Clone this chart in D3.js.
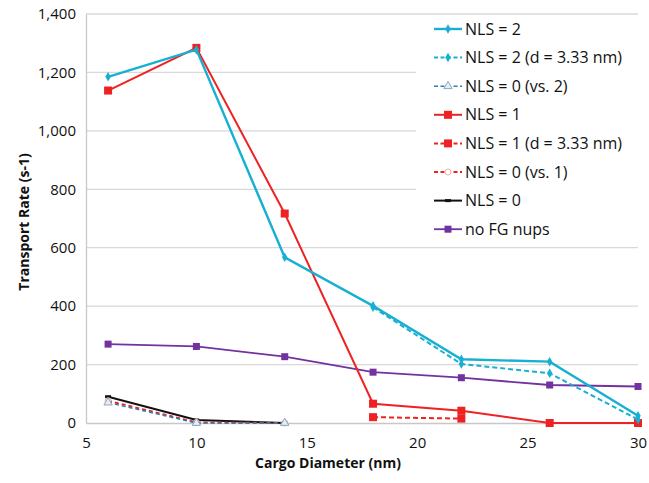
<!DOCTYPE html>
<html><head><meta charset="utf-8">
<script src="https://cdn.jsdelivr.net/npm/d3@7"></script>
<style>body{margin:0;background:#fff}svg{display:block}text{font-family:"Open Sans",Lato,sans-serif}</style>
</head><body><div id="c"></div>
<script>
const xTicks = [5,10,15,20,25,30];
const yTicks = [0,200,400,600,800,1000,1200,1400];
const xNls2 = [6,10,14,18,22,26,30];
const nls2 = [1185,1278,567,401,218,210,25];
const xNls2d = [18,22,26,30];
const nls2d = [396,202,170,12];
const xNls0v2 = [6,10,14];
const nls0v2 = [70,0,0];
const xNls1 = [6,10,14,18,22,26,30];
const nls1 = [1138,1284,717,66,42,0,0];
const xNls1d = [18,22];
const nls1d = [20,15];
const xNls0v1 = [6,10,14];
const nls0v1 = [76,2,0];
const xNls0 = [6,10,14];
const nls0 = [90,10,0];
const xNoFG = [6,10,14,18,22,26,30];
const noFG = [270,262,227,174,155,130,125];
const seriesNames = ["NLS = 2","NLS = 2 (d = 3.33 nm)","NLS = 0 (vs. 2)","NLS = 1","NLS = 1 (d = 3.33 nm)","NLS = 0 (vs. 1)","NLS = 0","no FG nups"];

const cyan="#17b0d3", red="#ee2222", purple="#7232a0", navy="#2f7fb0";
const series = [
 {name:seriesNames[0], xs:xNls2, ys:nls2, color:cyan, dash:null, marker:"diamond", w:2.4},
 {name:seriesNames[1], xs:xNls2d, ys:nls2d, color:cyan, dash:"5,3", marker:"diamond", w:2},
 {name:seriesNames[2], xs:xNls0v2, ys:nls0v2, color:navy, dash:"4,3", marker:"tri", w:1.5},
 {name:seriesNames[3], xs:xNls1, ys:nls1, color:red, dash:null, marker:"square", w:2},
 {name:seriesNames[4], xs:xNls1d, ys:nls1d, color:red, dash:"5,3", marker:"square", w:2},
 {name:seriesNames[5], xs:xNls0v1, ys:nls0v1, color:red, dash:"4,3", marker:"opencircle", w:2},
 {name:seriesNames[6], xs:xNls0, ys:nls0, color:"#111", dash:null, marker:"dash", w:2},
 {name:seriesNames[7], xs:xNoFG, ys:noFG, color:purple, dash:null, marker:"square", w:1.8}
];
const drawOrder=[6,7,5,2,4,3,1,0];

const W=649,H=483;
const svg=d3.select("#c").append("svg").attr("width",W).attr("height",H);
const x=d3.scaleLinear().domain([5,30]).range([86,638]);
const y=d3.scaleLinear().domain([0,1400]).range([423,14]);

svg.append("g").selectAll("line").data(yTicks.slice(1)).join("line")
 .attr("x1",86).attr("x2",638).attr("y1",d=>y(d)).attr("y2",d=>y(d))
 .attr("stroke","#d9d9d9").attr("stroke-width",1.3);

const xa=svg.append("g").attr("transform","translate(0,423)")
 .call(d3.axisBottom(x).tickValues(xTicks).tickSize(0).tickPadding(14).tickFormat(d3.format("d")));
xa.select(".domain").attr("stroke","#c8c8c8").attr("stroke-width",1.3);
xa.selectAll("text").attr("font-size",15).attr("fill","#111").attr("font-family","'Open Sans',sans-serif");
const ya=svg.append("g").attr("transform","translate(86,0)")
 .call(d3.axisLeft(y).tickValues(yTicks).tickSize(0).tickPadding(10).tickFormat(d3.format(",")));
ya.select(".domain").attr("stroke","#c8c8c8").attr("stroke-width",1.3);
ya.selectAll("text").attr("font-size",15).attr("fill","#111").attr("font-family","'Open Sans',sans-serif");

svg.append("text").attr("x",328).attr("y",468).attr("text-anchor","middle")
 .attr("font-size",14).attr("font-weight","bold").attr("fill","#111").text("Cargo Diameter (nm)");
svg.append("text").attr("transform","translate(29,222) rotate(-90)").attr("text-anchor","middle")
 .attr("font-size",14).attr("font-weight","bold").attr("fill","#111").text("Transport Rate (s-1)");

function marker(g,type,cx,cy,color){
  if(type==="diamond"){
    g.append("path").attr("d",d3.symbol(d3.symbolDiamond,26)()).attr("transform",`translate(${cx},${cy})`).attr("fill",color);
  } else if(type==="square"){
    const s = color===purple?7:8;
    g.append("rect").attr("x",cx-s/2).attr("y",cy-s/2).attr("width",s).attr("height",s).attr("fill",color);
  } else if(type==="tri"){
    g.append("path").attr("d",d3.symbol(d3.symbolTriangle,30)()).attr("transform",`translate(${cx},${cy})`)
     .attr("fill","#e6eef5").attr("stroke","#8aa6c0").attr("stroke-width",1);
  } else if(type==="opencircle"){
    g.append("circle").attr("cx",cx).attr("cy",cy).attr("r",3).attr("fill","#fff").attr("stroke","#f4b0b0").attr("stroke-width",1);
  } else if(type==="dash"){
    g.append("rect").attr("x",cx-3).attr("y",cy-1.5).attr("width",6).attr("height",3).attr("fill",color);
  }
}

const line=d3.line().x(d=>x(d[0])).y(d=>y(d[1]));
drawOrder.forEach(i=>{
  const s=series[i];
  const pts=s.xs.map((v,k)=>[v,s.ys[k]]);
  const g=svg.append("g");
  g.append("path").attr("d",line(pts)).attr("fill","none").attr("stroke",s.color)
   .attr("stroke-width",s.w).attr("stroke-dasharray",s.dash);
  pts.forEach(p=>marker(g,s.marker,x(p[0]),y(p[1]),s.color));
});

svg.append("rect").attr("x",416).attr("y",16).attr("width",233).attr("height",229).attr("fill","#fff");
const lg=svg.append("g");
series.forEach((s,i)=>{
  const yy=29+i*28.6;
  lg.append("line").attr("x1",434).attr("x2",462).attr("y1",yy).attr("y2",yy)
   .attr("stroke",s.color).attr("stroke-width",s.w).attr("stroke-dasharray",s.dash?"4,2.5":null);
  marker(lg,s.marker,448,yy,s.color);
  lg.append("text").attr("x",465).attr("y",yy+5.5).attr("font-size",16).attr("font-family","Lato,sans-serif")
   .attr("fill","#111").text(s.name);
});
</script></body></html>
